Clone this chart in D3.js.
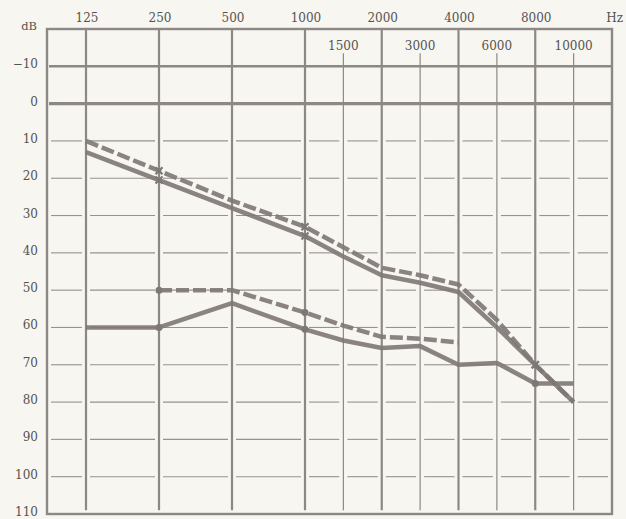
<!DOCTYPE html>
<html>
	<head>
		<title>Audiogram</title>
		<style type="text/css">
		body { margin: 0; background: #f7f6f1; }
		svg text { font-family: "DejaVu Serif", "Liberation Serif", serif; fill: #555352; }
		</style>
		<script src="https://cdn.jsdelivr.net/npm/d3@7/dist/d3.min.js"></script>
		<script type="text/javascript">
		// column slots across the form: blanks are the half-steps between octaves
		var slots = [null, 125, null, 250, null, 500, null, 1000, 1500, 2000, 3000, 4000, 6000, 8000, 10000, null];
		var freqs = [125, 250, 500, 1000, 1500, 2000, 3000, 4000, 6000, 8000, 10000];
		var topLabels = [125, 250, 500, 1000, 2000, 4000, 8000];
		var subLabels = [1500, 3000, 6000, 10000];
		var dbTicks = [-10, 0, 10, 20, 30, 40, 50, 60, 70, 80, 90, 100, 110];

		// upper pair (x marks), lower pair (o marks)
		var upperDashed = [10, 18, 26, 33, 38.5, 44, 46, 48.5, 58, 70, 80];
		var upperSolid = [13, 20.5, 28, 35.5, 41, 46, 48, 50.5, 60, 70, 80];
		var lowerSolid = [60, 60, 53.5, 60.5, 63.5, 65.5, 65, 70, 69.5, 75, 75];
		var lowerDashed = [null, 50, 50, 56, 59.5, 62.5, 63, 64, null, null, null];
		var crossAt = [250, 1000, 8000];
		var ringAt = [250, 1000, 8000];

		window.onload = function() {
			var width = 626, height = 519;
			var svg = d3.select("#chart").append("svg")
				.attr("width", width)
				.attr("height", height);

			var xs = d3.scaleLinear().domain([0, 1, 7, 15]).range([47, 86, 305, 612]);
			var x = function (f) { return xs(slots.indexOf(f)); };
			var y = d3.scaleLinear().domain([-20, 110]).range([29, 514]);

			var gridCol = "#8d8886";
			var lineCol = "#7d7775";

			// vertical lines
			var vx = slots.map(function (f, i) { return { f: f, i: i }; }).filter(function (d) { return d.f !== null; });
			svg.append("g").selectAll("line")
				.data(vx)
				.enter().append("line")
				.attr("x1", function (d) { return xs(d.i); })
				.attr("x2", function (d) { return xs(d.i); })
				.attr("y1", function (d) { return subLabels.indexOf(d.f) >= 0 ? y(-13.5) : y(-20); })
				.attr("y2", y(109))
				.style("stroke", gridCol)
				.style("stroke-width", function (d) { return subLabels.indexOf(d.f) >= 0 ? 1.2 : 2.2; });

			// thin dB lines, broken at each vertical
			var edges = [xs(0)].concat(vx.map(function (d) { return xs(d.i); })).concat([xs(15)]);
			var segs = [];
			dbTicks.filter(function (v) { return v > 0 && v < 110; }).forEach(function (v) {
				for (var k = 0; k < edges.length - 1; k++) segs.push({ v: v, a: edges[k] + 4, b: edges[k + 1] - 4 });
			});
			svg.append("g").selectAll("line")
				.data(segs)
				.enter().append("line")
				.attr("x1", function (d) { return d.a; })
				.attr("x2", function (d) { return d.b; })
				.attr("y1", function (d) { return y(d.v); })
				.attr("y2", function (d) { return y(d.v); })
				.style("stroke", "#96928f")
				.style("stroke-width", 1.1);

			// heavy -10 and 0 lines
			svg.append("g").selectAll("line")
				.data([-10, 0])
				.enter().append("line")
				.attr("x1", xs(0) + 2)
				.attr("x2", xs(15))
				.attr("y1", function (d) { return y(d); })
				.attr("y2", function (d) { return y(d); })
				.style("stroke", gridCol)
				.style("stroke-width", function (d) { return d === 0 ? 3.2 : 2.4; });

			// frame
			svg.append("rect")
				.attr("x", xs(0))
				.attr("y", y(-20))
				.attr("width", xs(15) - xs(0))
				.attr("height", y(110) - y(-20))
				.style("fill", "none")
				.style("stroke", gridCol)
				.style("stroke-width", 2.4);

			// labels
			svg.append("g").selectAll("text")
				.data(dbTicks)
				.enter().append("text")
				.attr("x", 38)
				.attr("y", function (d) { return y(d) + 2; })
				.attr("text-anchor", "end")
				.style("font-size", "12px")
				.text(function (d) { return d < 0 ? "\u2212" + Math.abs(d) : d; });
			svg.append("g").selectAll("text")
				.data(topLabels)
				.enter().append("text")
				.attr("x", function (d) { return x(d) + 1; })
				.attr("y", 22)
				.attr("text-anchor", "middle")
				.style("font-size", "12px")
				.text(function (d) { return d; });
			svg.append("g").selectAll("text")
				.data(subLabels)
				.enter().append("text")
				.attr("x", function (d) { return x(d); })
				.attr("y", 50)
				.attr("text-anchor", "middle")
				.style("font-size", "12px")
				.text(function (d) { return d; });
			svg.append("text").attr("x", 37).attr("y", 30).attr("text-anchor", "end")
				.style("font-size", "11.5px").text("dB");
			svg.append("text").attr("x", 623).attr("y", 22).attr("text-anchor", "end")
				.style("font-size", "12px").text("Hz");

			// curves
			var line = d3.line()
				.defined(function (d) { return d.v !== null; })
				.x(function (d) { return x(d.f); })
				.y(function (d) { return y(d.v); });
			var series = [
				{ vals: upperSolid, dash: null },
				{ vals: upperDashed, dash: "13,4" },
				{ vals: lowerSolid, dash: null },
				{ vals: lowerDashed, dash: "13,4" }
			];
			svg.append("g").selectAll("path")
				.data(series)
				.enter().append("path")
				.attr("d", function (s) { return line(freqs.map(function (f, i) { return { f: f, v: s.vals[i] }; })); })
				.style("fill", "none")
				.style("stroke", lineCol)
				.style("stroke-width", 4.5)
				.style("stroke-linejoin", "round")
				.style("stroke-dasharray", function (s) { return s.dash; })
				.style("opacity", 0.9);

			// x marks on the upper pair
			var crosses = [];
			[upperSolid, upperDashed].forEach(function (vals) {
				crossAt.forEach(function (f) { crosses.push({ f: f, v: vals[freqs.indexOf(f)] }); });
			});
			svg.append("g").selectAll("path")
				.data(crosses)
				.enter().append("path")
				.attr("d", function (d) {
					var cx = x(d.f), cy = y(d.v), r = 3.5;
					return "M" + (cx - r) + "," + (cy - r) + "L" + (cx + r) + "," + (cy + r) +
						"M" + (cx + r) + "," + (cy - r) + "L" + (cx - r) + "," + (cy + r);
				})
				.style("stroke", lineCol)
				.style("stroke-width", 2.2);

			// o marks on the lower pair
			var rings = [];
			[lowerSolid, lowerDashed].forEach(function (vals) {
				ringAt.forEach(function (f) {
					var v = vals[freqs.indexOf(f)];
					if (v !== null) rings.push({ f: f, v: v });
				});
			});
			svg.append("g").selectAll("circle")
				.data(rings)
				.enter().append("circle")
				.attr("cx", function (d) { return x(d.f); })
				.attr("cy", function (d) { return y(d.v); })
				.attr("r", 3.5)
				.style("fill", lineCol)
				.style("stroke", "none");
		}
		</script>
	</head>
	<body>
		<div id="chart"></div>
	</body>
</html>
